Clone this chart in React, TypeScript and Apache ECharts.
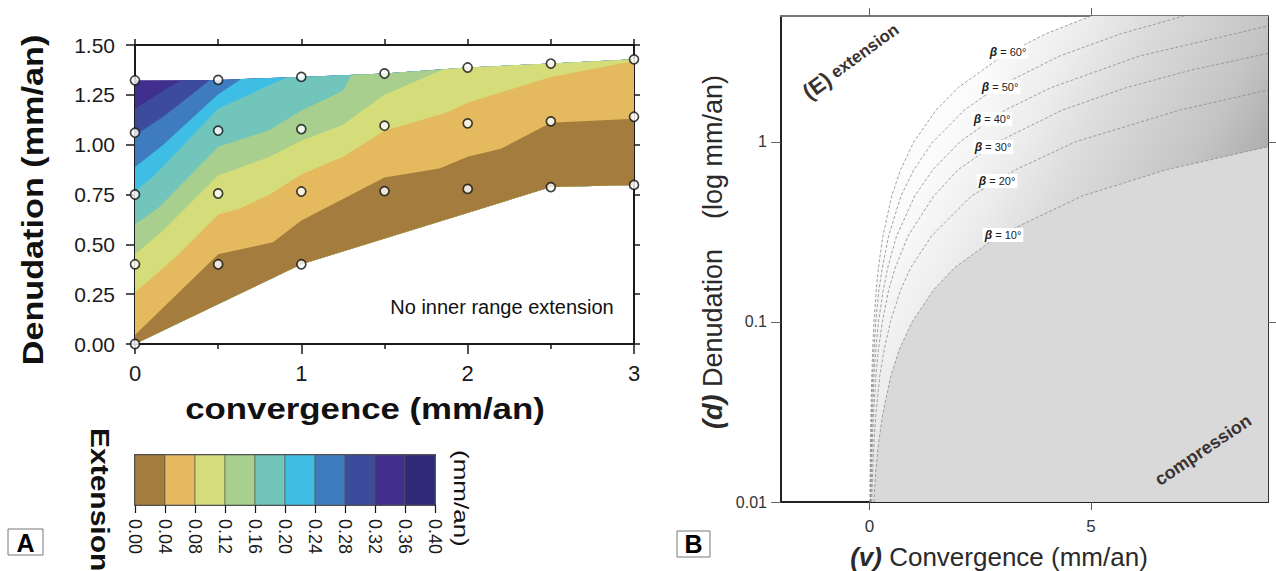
import React, { useEffect, useRef } from "react";
import * as echarts from "echarts";

type P = [number, number];

const FONT = "'Liberation Sans', Arial, Helvetica, sans-serif";

// ---------------- Panel A : contour map ----------------
const convergenceLabels = [0, 1, 2, 3];
const extensionLevels = [0, 0.04, 0.08, 0.12, 0.16, 0.2, 0.24, 0.28, 0.32, 0.36, 0.4];
const extensionColors = [
  "#a47c3d", "#e5ba5f", "#d4dd7a", "#a9cf8e", "#72c5bb",
  "#3fbee5", "#3f7cbf", "#3c4b9b", "#402f8c", "#2e2a78",
];

// model runs (white dots)
const sampleConvergence = [0, 0, 0, 0, 0, 0.5, 0.5, 0.5, 0.5, 1, 1, 1, 1, 1.5, 1.5, 1.5, 2, 2, 2, 2.5, 2.5, 2.5, 3, 3, 3];
const sampleDenudation = [0, 0.4, 0.75, 1.06, 1.323, 0.4, 0.755, 1.07, 1.325, 0.4, 0.765, 1.078, 1.34, 0.767, 1.095, 1.357, 0.778, 1.107, 1.387, 0.787, 1.117, 1.407, 0.798, 1.14, 1.428];

// hull of the contoured domain
const topBoundary: P[] = [[0, 1.323], [0.5, 1.325], [1, 1.34], [1.5, 1.357], [2, 1.387], [2.5, 1.407], [3, 1.428]];
const bottomBoundary: P[] = [[0, 0], [1, 0.4], [2.5, 0.787], [3, 0.798]];

// iso-extension lines (mm/an)
const iso004: P[] = [[0, 0.045], [0.5, 0.45], [0.83, 0.51], [1.0, 0.62], [1.5, 0.835], [1.83, 0.88], [2.0, 0.94], [2.2, 0.98], [2.5, 1.11], [3.0, 1.13]];
const iso008: P[] = [[0, 0.258], [0.25, 0.44], [0.5, 0.65], [0.63, 0.68], [0.81, 0.75], [1.0, 0.85], [1.25, 0.94], [1.5, 1.07], [1.87, 1.16], [2.0, 1.21], [2.5, 1.34], [3.0, 1.42]];
const iso012: P[] = [[0, 0.45], [0.17, 0.57], [0.5, 0.845], [0.81, 0.94], [1.0, 1.02], [1.25, 1.1], [1.5, 1.25], [1.83, 1.37], [2.0, 1.42]];
const iso016: P[] = [[0, 0.6], [0.15, 0.69], [0.5, 0.99], [0.8, 1.07], [1.0, 1.17], [1.25, 1.27], [1.35, 1.42]];
const iso020: P[] = [[0, 0.767], [0.11, 0.84], [0.5, 1.18], [0.63, 1.23], [0.91, 1.337], [1.1, 1.45]];
const iso024: P[] = [[0, 0.888], [0.17, 1.0], [0.5, 1.253], [0.63, 1.325], [0.8, 1.45]];
const iso028: P[] = [[0, 1.047], [0.17, 1.14], [0.37, 1.27], [0.45, 1.325], [0.6, 1.45]];
const iso032: P[] = [[0, 1.18], [0.17, 1.27], [0.28, 1.325], [0.4, 1.45]];

// ---------------- Panel B : wedge angle diagram ----------------
const betaLabels = ["60", "50", "40", "30", "20", "10"];
const beta10: P[] = [[0.096, 0.01], [0.144, 0.015], [0.19, 0.02], [0.29, 0.03], [0.48, 0.05], [0.67, 0.07], [0.96, 0.1], [1.44, 0.15], [1.92, 0.2], [2.9, 0.3], [4.8, 0.5], [6.7, 0.7], [9, 0.94]];
const beta20: P[] = [[0.047, 0.01], [0.07, 0.015], [0.093, 0.02], [0.14, 0.03], [0.23, 0.05], [0.33, 0.07], [0.47, 0.1], [0.7, 0.15], [0.93, 0.2], [1.4, 0.3], [2.3, 0.5], [3.3, 0.7], [4.65, 1], [7.0, 1.5], [9, 1.94]];
const beta30: P[] = [[0.029, 0.01], [0.043, 0.015], [0.058, 0.02], [0.087, 0.03], [0.145, 0.05], [0.2, 0.07], [0.29, 0.1], [0.43, 0.15], [0.58, 0.2], [0.87, 0.3], [1.45, 0.5], [2.0, 0.7], [2.9, 1], [4.35, 1.5], [5.8, 2], [7.25, 2.5], [9, 3.1]];
const beta40: P[] = [[0.02, 0.01], [0.031, 0.015], [0.041, 0.02], [0.061, 0.03], [0.1, 0.05], [0.14, 0.07], [0.2, 0.1], [0.31, 0.15], [0.41, 0.2], [0.61, 0.3], [1.02, 0.5], [1.43, 0.7], [2.04, 1], [3.06, 1.5], [4.1, 2], [6.1, 3], [9, 4.4]];
const beta50: P[] = [[0.014, 0.01], [0.021, 0.015], [0.029, 0.02], [0.043, 0.03], [0.071, 0.05], [0.1, 0.07], [0.14, 0.1], [0.21, 0.15], [0.29, 0.2], [0.43, 0.3], [0.71, 0.5], [1.0, 0.7], [1.43, 1], [2.14, 1.5], [2.86, 2], [4.3, 3], [5.7, 4], [7.1, 5]];
const beta60: P[] = [[0.01, 0.01], [0.015, 0.015], [0.02, 0.02], [0.03, 0.03], [0.05, 0.05], [0.07, 0.07], [0.1, 0.1], [0.15, 0.15], [0.2, 0.2], [0.3, 0.3], [0.5, 0.5], [0.7, 0.7], [1, 1], [1.5, 1.5], [2, 2], [3, 3], [4, 4], [5, 5]];
const betaCurves = [beta60, beta50, beta40, beta30, beta20, beta10];
const convergenceTicksB = [0, 5];
const denudationTicksB = [0.01, 0.1, 1];

// ---------------- helpers (geometry only) ----------------
function evalPL(pts: P[], x: number): number {
  let i = 0;
  while (i < pts.length - 2 && x > pts[i + 1][0]) i++;
  const a = pts[i], b = pts[i + 1];
  return a[1] + ((b[1] - a[1]) * (x - a[0])) / (b[0] - a[0]);
}

function clampLine(line: P[]): P[] {
  const xs = Array.from(
    new Set([...line, ...topBoundary, ...bottomBoundary].map((p) => p[0]).filter((x) => x >= 0 && x <= 3))
  ).sort((a, b) => a - b);
  const c = (x: number) =>
    Math.min(Math.max(evalPL(line, x), evalPL(bottomBoundary, x)), evalPL(topBoundary, x));
  const out: P[] = [];
  for (let i = 0; i < xs.length; i++) {
    const a = xs[i];
    out.push([a, c(a)]);
    if (i < xs.length - 1) {
      const b = xs[i + 1];
      const cross: number[] = [];
      for (const bd of [topBoundary, bottomBoundary]) {
        const fa = evalPL(line, a) - evalPL(bd, a);
        const fb = evalPL(line, b) - evalPL(bd, b);
        if (fa * fb < 0) cross.push(a + ((b - a) * fa) / (fa - fb));
      }
      cross.sort((p, q) => p - q).forEach((x) => out.push([x, c(x)]));
    }
  }
  return out;
}

export default function App() {
  const ref = useRef<HTMLDivElement>(null);

  useEffect(() => {
    if (!ref.current) return;
    const chart = echarts.init(ref.current, undefined, { renderer: "svg" });

    const boundaries = [bottomBoundary, iso004, iso008, iso012, iso016, iso020, iso024, iso028, iso032, topBoundary];
    const clamped = boundaries.map((b, i) =>
      i === 0 ? bottomBoundary : i === boundaries.length - 1 ? topBoundary : clampLine(b)
    );
    // painter's order: highest band first, each filled from the hull bottom up to its upper iso-line
    const bandData = boundaries.slice(0, -1).map((_, k) => [k, 0]).reverse();
    const cells = extensionColors.map((_, i) => [extensionLevels[i], extensionLevels[i + 1], i]);

    const axisLineA = { show: true, onZero: false, lineStyle: { color: "#1a1a1a", width: 2 } };
    const tickA = (len: number) => ({ show: true, length: len, lineStyle: { color: "#1a1a1a", width: 1.5 } });

    const betaLabelPos: P[] = [[1008, 52], [1000, 87], [992, 119], [993, 147], [997, 181], [1003, 235]];

    const option: any = {
      animation: false,
      backgroundColor: "#ffffff",
      textStyle: { fontFamily: FONT },
      grid: [
        { left: 135, top: 45, width: 499, height: 299 },
        { left: 781, top: 16, width: 487, height: 486 },
        { left: 135, top: 455, width: 300, height: 50 },
      ],
      xAxis: [
        {
          gridIndex: 0, type: "value", min: 0, max: 3, interval: 1, position: "bottom",
          axisLine: axisLineA, axisTick: tickA(10),
          minorTick: { show: true, splitNumber: 2, length: 5, lineStyle: { color: "#1a1a1a", width: 1.5 } },
          axisLabel: { fontSize: 22, color: "#1a1a1a", margin: 18, fontFamily: FONT,
            customValues: convergenceLabels },
          splitLine: { show: false },
        },
        {
          gridIndex: 0, type: "value", min: 0, max: 3, interval: 0.5, position: "top",
          axisLine: axisLineA, axisTick: tickA(6), axisLabel: { show: false }, splitLine: { show: false },
        },
        {
          gridIndex: 1, type: "value", min: -2, max: 9, position: "bottom",
          axisLine: { show: true, onZero: false, lineStyle: { color: "#222", width: 2 } },
          axisTick: { show: true, length: 8, customValues: convergenceTicksB, lineStyle: { color: "#555", width: 1 } },
          axisLabel: { fontSize: 17, color: "#333", margin: 16, fontFamily: FONT, customValues: convergenceTicksB },
          splitLine: { show: false },
        },
        {
          gridIndex: 1, type: "value", min: -2, max: 9, position: "top",
          axisLine: { show: true, onZero: false, lineStyle: { color: "#777", width: 2 } },
          axisTick: { show: true, length: 8, customValues: convergenceTicksB, lineStyle: { color: "#666", width: 1 } },
          axisLabel: { show: false }, splitLine: { show: false },
        },
        {
          gridIndex: 2, type: "value", min: 0, max: 0.4, interval: 0.04, position: "bottom",
          axisLine: { show: true, onZero: false, lineStyle: { color: "#1a1a1a", width: 1.5 } },
          axisTick: { show: true, length: 8, lineStyle: { color: "#1a1a1a", width: 1.2 } },
          axisLabel: { fontSize: 18, color: "#1a1a1a", rotate: -90, margin: 14, fontFamily: FONT,
            formatter: (v: number) => v.toFixed(2) },
          splitLine: { show: false },
        },
        {
          gridIndex: 2, type: "value", min: 0, max: 0.4, position: "top",
          axisLine: { show: true, onZero: false, lineStyle: { color: "#1a1a1a", width: 1.5 } },
          axisTick: { show: false }, axisLabel: { show: false }, splitLine: { show: false },
        },
      ],
      yAxis: [
        {
          gridIndex: 0, type: "value", min: 0, max: 1.5, interval: 0.25, position: "left",
          axisLine: axisLineA, axisTick: tickA(9),
          axisLabel: { fontSize: 21, color: "#1a1a1a", margin: 20, fontFamily: FONT, formatter: (v: number) => v.toFixed(2) },
          splitLine: { show: false },
        },
        {
          gridIndex: 0, type: "value", min: 0, max: 1.5, interval: 0.25, position: "right",
          axisLine: axisLineA, axisTick: tickA(6), axisLabel: { show: false }, splitLine: { show: false },
        },
        {
          gridIndex: 1, type: "log", logBase: 10, min: 0.01, max: 5, position: "left",
          axisLine: { show: true, onZero: false, lineStyle: { color: "#222", width: 2 } },
          axisTick: { show: true, length: 10, customValues: denudationTicksB, lineStyle: { color: "#666", width: 1 } },
          axisLabel: { fontSize: 16, color: "#333", margin: 14, fontFamily: FONT, customValues: denudationTicksB,
            formatter: (v: number) => String(+Number(v).toPrecision(2)) },
          splitLine: { show: false },
        },
        {
          gridIndex: 1, type: "log", logBase: 10, min: 0.01, max: 5, position: "right",
          axisLine: { show: true, onZero: false, lineStyle: { color: "#333", width: 2 } },
          axisTick: { show: true, length: 10, customValues: [0.1, 1], lineStyle: { color: "#666", width: 1 } },
          axisLabel: { show: false }, splitLine: { show: false },
        },
        {
          gridIndex: 2, type: "value", min: 0, max: 1, position: "left",
          axisLine: { show: true, onZero: false, lineStyle: { color: "#1a1a1a", width: 1.5 } },
          axisTick: { show: false }, axisLabel: { show: false }, splitLine: { show: false },
        },
        {
          gridIndex: 2, type: "value", min: 0, max: 1, position: "right",
          axisLine: { show: true, onZero: false, lineStyle: { color: "#1a1a1a", width: 1.5 } },
          axisTick: { show: false }, axisLabel: { show: false }, splitLine: { show: false },
        },
      ],
      series: [
        {
          type: "custom", name: "contours", xAxisIndex: 0, yAxisIndex: 0, z: 1,
          data: bandData,
          renderItem: (_p: any, api: any) => {
            const k = api.value(0);
            const upper = clamped[k + 1];
            const lower = bottomBoundary.slice().reverse();
            const pts = [...upper, ...lower].map((p) => api.coord(p));
            return {
              type: "polygon",
              shape: { points: pts },
              style: { fill: extensionColors[k] },
            };
          },
        },
        {
          type: "scatter", name: "runs", xAxisIndex: 0, yAxisIndex: 0, z: 5, clip: false,
          symbol: "circle", symbolSize: 9,
          itemStyle: { color: "#ffffff", borderColor: "#111", borderWidth: 1.7 },
          data: sampleConvergence.map((x, i) => [x, sampleDenudation[i]]),
        },
        {
          type: "custom", name: "colorbar", xAxisIndex: 4, yAxisIndex: 4, z: 1,
          data: cells,
          renderItem: (_p: any, api: any) => {
            const a = api.coord([api.value(0), 1]);
            const b = api.coord([api.value(1), 0]);
            return {
              type: "rect",
              shape: { x: a[0], y: a[1], width: b[0] - a[0], height: b[1] - a[1] },
              style: { fill: extensionColors[api.value(2)], stroke: "#555", lineWidth: 0.6 },
            };
          },
        },
        {
          type: "line", name: "wedge shading", xAxisIndex: 2, yAxisIndex: 3, z: 1,
          symbol: "none", silent: true,
          lineStyle: { width: 0 },
          areaStyle: {
            origin: "start", opacity: 1,
            color: new echarts.graphic.LinearGradient(900, 0, 1268, 200, [
              { offset: 0, color: "#ffffff" },
              { offset: 0.25, color: "#fbfbfb" },
              { offset: 0.42, color: "#ececec" },
              { offset: 0.55, color: "#dcdcdc" },
              { offset: 0.8, color: "#c4c4c4" },
              { offset: 0.95, color: "#acacac" },
              { offset: 1, color: "#a6a6a6" },
            ], true),
          },
          data: [...beta60, [9, 5]],
        },
        {
          type: "line", name: "compression", xAxisIndex: 2, yAxisIndex: 3, z: 2,
          symbol: "none", silent: true,
          lineStyle: { width: 0 },
          areaStyle: { origin: "start", opacity: 1, color: "#d9d9d9" },
          data: beta10,
        },
        ...betaCurves.map((c, i) => ({
          type: "line", name: "beta " + betaLabels[i], xAxisIndex: 2, yAxisIndex: 3, z: 3,
          symbol: "none", silent: true,
          lineStyle: { color: "#8a8a8a", width: 0.8, type: [3, 2] },
          data: c,
        })),
      ],
      graphic: [
        // Panel A texts
        {
          type: "text", x: 33, y: 200, rotation: Math.PI / 2, scaleX: 1.18,
          style: { text: "Denudation (mm/an)", fontFamily: FONT, fontSize: 29, fontWeight: "bold", fill: "#111", align: "center", verticalAlign: "middle" },
        },
        {
          type: "text", x: 365, y: 409, scaleX: 1.2,
          style: { text: "convergence (mm/an)", fontFamily: FONT, fontSize: 29, fontWeight: "bold", fill: "#111", align: "center", verticalAlign: "middle" },
        },
        {
          type: "text", x: 502, y: 307,
          style: { text: "No inner range extension", fontFamily: FONT, fontSize: 20, fill: "#111", align: "center", verticalAlign: "middle" },
        },
        {
          type: "text", x: 100, y: 428, rotation: -Math.PI / 2, scaleX: 1.2,
          style: { text: "Extension", fontFamily: FONT, fontSize: 25, fontWeight: "bold", fill: "#111", align: "left", verticalAlign: "middle" },
        },
        {
          type: "text", x: 461, y: 450, rotation: -Math.PI / 2, scaleX: 1.3,
          style: { text: "(mm/an)", fontFamily: FONT, fontSize: 20, fill: "#111", align: "left", verticalAlign: "middle" },
        },
        { type: "rect", shape: { x: 8, y: 529, width: 35, height: 26 }, style: { fill: "#fff", stroke: "#777", lineWidth: 1 } },
        {
          type: "text", x: 25.5, y: 542.5,
          style: { text: "A", fontFamily: FONT, fontSize: 25, fontWeight: "bold", fill: "#000", align: "center", verticalAlign: "middle" },
        },
        // Panel B texts
        {
          type: "text", x: 713, y: 252, rotation: Math.PI / 2,
          style: {
            text: "{b|(d)} Denudation    (log mm/an)", fontFamily: FONT, fontSize: 27, fill: "#2a2a2a", align: "center", verticalAlign: "middle",
            rich: { b: { fontFamily: FONT, fontSize: 27, fontWeight: "bold", fontStyle: "italic", fill: "#2a2a2a" } },
          },
        },
        {
          type: "text", x: 999, y: 557,
          style: {
            text: "{b|(v)} Convergence (mm/an)", fontFamily: FONT, fontSize: 26, fill: "#2a2a2a", align: "center", verticalAlign: "middle",
            rich: { b: { fontFamily: FONT, fontSize: 26, fontWeight: "bold", fontStyle: "italic", fill: "#2a2a2a" } },
          },
        },
        {
          type: "text", x: 851, y: 61, rotation: (36 * Math.PI) / 180, z: 10,
          style: {
            text: "{e|(E)} extension", fontFamily: FONT, fontSize: 17, fontWeight: "bold", fill: "#3a3232", align: "center", verticalAlign: "middle",
            rich: { e: { fontFamily: FONT, fontSize: 22, fontWeight: "bold", fill: "#3a3232" } },
          },
        },
        {
          type: "text", x: 1203, y: 450, rotation: (34 * Math.PI) / 180, z: 10,
          style: { text: "compression", fontFamily: FONT, fontSize: 18, fontWeight: "bold", fill: "#3a3232", align: "center", verticalAlign: "middle" },
        },
        ...betaLabels.map((b, i) => ({
          type: "text", x: betaLabelPos[i][0], y: betaLabelPos[i][1], z: 10,
          style: {
            text: "{g|β} = " + b + "°", fontFamily: FONT, fontSize: 11, fill: "#222", align: "center", verticalAlign: "middle",
            backgroundColor: "#ffffff", padding: [1, 2],
            rich: { g: { fontFamily: FONT, fontSize: 12, fontWeight: "bold", fontStyle: "italic", fill: "#222" } },
          },
        })),
        { type: "rect", shape: { x: 677, y: 531, width: 33, height: 26 }, style: { fill: "#fff", stroke: "#777", lineWidth: 1 } },
        {
          type: "text", x: 693.5, y: 544,
          style: { text: "B", fontFamily: FONT, fontSize: 25, fontWeight: "bold", fill: "#000", align: "center", verticalAlign: "middle" },
        },
      ],
    };

    chart.setOption(option);
    return () => chart.dispose();
  }, []);

  return (
    <div
      ref={ref}
      style={{ position: "absolute", left: 0, top: 0, width: 1276, height: 571, background: "#fff" }}
    />
  );
}
